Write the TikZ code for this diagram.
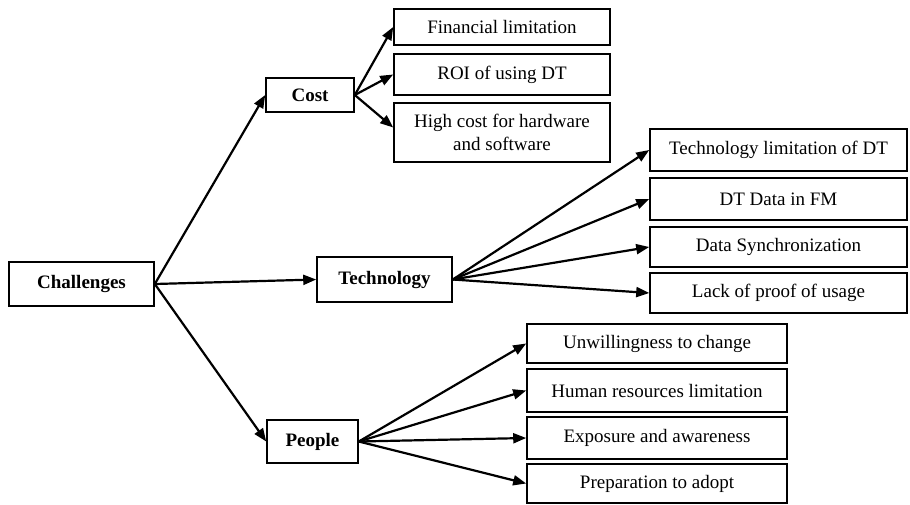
\documentclass[tikz,border=0pt]{standalone}
\usepackage{fontspec}
\setmainfont{Liberation Serif}
\usepackage{tikz}
\usetikzlibrary{arrows.meta}
\tikzset{
  box/.style={draw=black, line width=0.8pt, fill=white, inner sep=1pt, align=center,
    font=\fontsize{9.5}{11.5}\selectfont},
  hub/.style={box, font=\fontsize{9.5}{11.5}\selectfont\bfseries},
  link/.style={draw=black, line width=1.1pt, -{Triangle[length=6.5pt,width=5pt]}},
}

\begin{document}
\begin{tikzpicture}[x=0.5pt,y=-0.5pt]
  \useasboundingbox (0,0) rectangle (910,504);

  % main branches
  \node[hub, minimum width=72.5pt, minimum height=22pt] (chal) at (81.5,284) {Challenges};
  \node[hub, minimum width=44pt, minimum height=17pt] (cost) at (310,95) {Cost};
  \node[hub, minimum width=67.5pt, minimum height=22.5pt] (tech) at (384.5,279.5) {Technology};
  \node[hub, minimum width=45.5pt, minimum height=21.5pt] (people) at (312.5,441.5) {People};

  % cost
  \node[box, minimum width=108pt, minimum height=18pt] (fin) at (502,27) {Financial limitation};
  \node[box, minimum width=108pt, minimum height=20.5pt] (roi) at (502,74.5) {ROI of using DT};
  \node[box, minimum width=108pt, minimum height=29.5pt] (hw) at (502,132.5) {High cost for hardware\\and software};

  % technology
  \node[box, minimum width=128.5pt, minimum height=21pt] (tlim) at (778.5,150) {Technology limitation of DT};
  \node[box, minimum width=128.5pt, minimum height=21pt] (dtfm) at (778.5,199) {DT Data in FM};
  \node[box, minimum width=128.5pt, minimum height=20pt] (sync) at (778.5,247) {Data Synchronization};
  \node[box, minimum width=128.5pt, minimum height=20pt] (proof) at (778.5,293) {Lack of proof of usage};

  % people
  \node[box, minimum width=130pt, minimum height=19.5pt] (unwill) at (657,343.5) {Unwillingness to change};
  \node[box, minimum width=130pt, minimum height=21.5pt] (hr) at (657,390.5) {Human resources limitation};
  \node[box, minimum width=130pt, minimum height=21pt] (expo) at (657,438) {Exposure and awareness};
  \node[box, minimum width=130pt, minimum height=19.5pt] (prep) at (657,483.5) {Preparation to adopt};

  \draw[link] (chal.east) -- (cost.west);
  \draw[link] (chal.east) -- (tech.west);
  \draw[link] (chal.east) -- (people.west);

  \draw[link] (cost.east) -- (fin.west);
  \draw[link] (cost.east) -- (roi.west);
  \draw[link] (cost.east) -- ([yshift=2.5pt]hw.west);

  \draw[link] (tech.east) -- (tlim.west);
  \draw[link] (tech.east) -- (dtfm.west);
  \draw[link] (tech.east) -- (sync.west);
  \draw[link] (tech.east) -- (proof.west);

  \draw[link] (people.east) -- (unwill.west);
  \draw[link] (people.east) -- (hr.west);
  \draw[link] (people.east) -- (expo.west);
  \draw[link] (people.east) -- (prep.west);
\end{tikzpicture}
\end{document}
